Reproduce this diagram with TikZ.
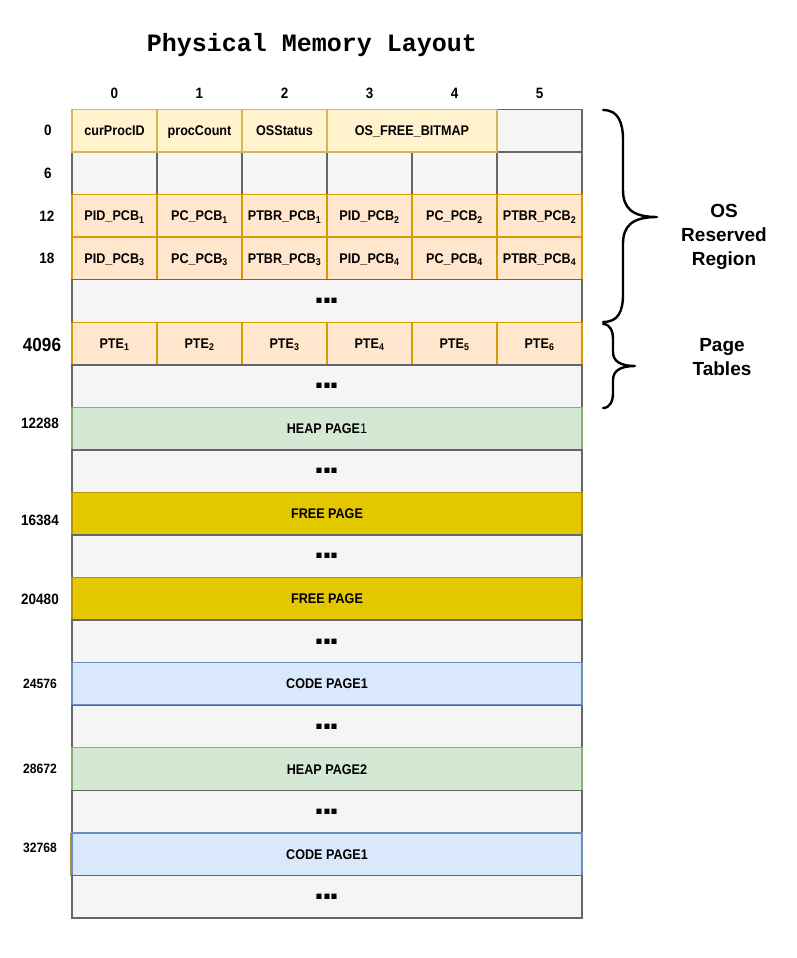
\documentclass[tikz,border=0pt]{standalone}
\usepackage{fontspec}
\setmainfont{Liberation Sans}
\newfontfamily\titlefont{Liberation Mono}
\newfontfamily\cellfamily{Liberation Sans}[FakeStretch=0.9]
\definecolor{grayF}{HTML}{F5F5F5}
\definecolor{grayS}{HTML}{666666}
\definecolor{yelF}{HTML}{FFF2CC}
\definecolor{yelS}{HTML}{D6B656}
\definecolor{orF}{HTML}{FFE6CC}
\definecolor{orS}{HTML}{D79B00}
\definecolor{grnF}{HTML}{D5E8D4}
\definecolor{grnS}{HTML}{82B366}
\definecolor{freeF}{HTML}{E3C800}
\definecolor{freeS}{HTML}{B09500}
\definecolor{bluF}{HTML}{DAE8FC}
\definecolor{bluS}{HTML}{6C8EBF}
\newcommand{\cellfnt}{\cellfamily\fontsize{14}{16}\selectfont\bfseries}
\newcommand{\dotfnt}{\fontsize{36}{36}\selectfont\bfseries}
\newcommand{\threedots}{.\kern-2.5pt.\kern-2.5pt.}
\begin{document}
\begin{tikzpicture}[x=1pt,y=-1pt,
  cellbox/.style={draw, minimum width=85pt, minimum height=42.55pt, inner sep=0pt, line width=1.4pt, font=\cellfnt, text height=11pt, text depth=1pt},
  graycell/.style={cellbox, fill=grayF, draw=grayS},
  yelcell/.style={cellbox, fill=yelF, draw=yelS},
  orcell/.style={cellbox, fill=orF, draw=orS},
  widebox/.style={cellbox, minimum width=510pt},
  dotrow/.style={widebox, fill=grayF, draw=grayS, font=\dotfnt, text height=, text depth=},
  heaprow/.style={widebox, fill=grnF, draw=grnS},
  freerow/.style={widebox, fill=freeF, draw=freeS},
  coderow/.style={widebox, fill=bluF, draw=bluS},
  hdr/.style={font=\cellfamily\fontsize{15}{16}\selectfont\bfseries, inner sep=0pt},
  rowlbl/.style={font=\cellfamily\fontsize{15}{16}\selectfont\bfseries, inner sep=0pt},
  rowlbls/.style={font=\cellfamily\fontsize{13.5}{14}\selectfont\bfseries, inner sep=0pt},
  sidelbl/.style={font=\fontsize{19}{24}\selectfont\bfseries, align=center, inner sep=0pt},
  bracepath/.style={draw=black, line width=2.4pt, line cap=round, line join=round}
]
\useasboundingbox (0,0) rectangle (796,958);

% title
\node[font=\titlefont\fontsize{25}{28}\selectfont\bfseries] (title) at (312,45) {Physical Memory Layout};

% column headers
\foreach \c in {0,...,5} {
  \node[hdr] (h\c) at ({114.5+85*\c},93) {\c};
}

% row 6 (gray)
\foreach \c in {0,...,5} {
  \node[graycell] (rB\c) at ({114.5+85*\c},173.3) {};
}
% row 0
\node[graycell] (rA5) at (539.5,130.8) {};
\node[yelcell] (rA0) at (114.5,130.8) {curProcID};
\node[yelcell] (rA1) at (199.5,130.8) {procCount};
\node[yelcell] (rA2) at (284.5,130.8) {OSStatus};
\node[yelcell, minimum width=170pt] (rA3) at (412,130.8) {OS\_FREE\_BITMAP};

% row 12
\node[orcell] (rC0) at (114.5,215.9) {PID\_PCB\textsubscript{1}};
\node[orcell] (rC1) at (199.5,215.9) {PC\_PCB\textsubscript{1}};
\node[orcell] (rC2) at (284.5,215.9) {PTBR\_PCB\textsubscript{1}};
\node[orcell] (rC3) at (369.5,215.9) {PID\_PCB\textsubscript{2}};
\node[orcell] (rC4) at (454.5,215.9) {PC\_PCB\textsubscript{2}};
\node[orcell] (rC5) at (539.5,215.9) {PTBR\_PCB\textsubscript{2}};
% row 18
\node[orcell] (rD0) at (114.5,258.4) {PID\_PCB\textsubscript{3}};
\node[orcell] (rD1) at (199.5,258.4) {PC\_PCB\textsubscript{3}};
\node[orcell] (rD2) at (284.5,258.4) {PTBR\_PCB\textsubscript{3}};
\node[orcell] (rD3) at (369.5,258.4) {PID\_PCB\textsubscript{4}};
\node[orcell] (rD4) at (454.5,258.4) {PC\_PCB\textsubscript{4}};
\node[orcell] (rD5) at (539.5,258.4) {PTBR\_PCB\textsubscript{4}};

% dots
\node[dotrow] (dots1) at (327,301.0) {\threedots};

% PTE row
\foreach \c [evaluate=\c as \n using int(\c+1)] in {0,...,5} {
  \node[orcell] (pte\c) at ({114.5+85*\c},343.5) {PTE\textsubscript{\n}};
}

\node[dotrow] (dots2) at (327,386.1) {\threedots};
\node[heaprow] (heap1) at (327,428.6) {HEAP PAGE{\mdseries 1}};
\node[dotrow] (dots3) at (327,471.2) {\threedots};
\node[freerow] (free1) at (327,513.7) {FREE PAGE};
\node[dotrow] (dots4) at (327,556.3) {\threedots};
\node[freerow] (free2) at (327,598.8) {FREE PAGE};
\node[dotrow] (dots5) at (327,641.4) {\threedots};
\node[coderow] (code1) at (327,683.9) {CODE PAGE1};
\node[dotrow] (dots6) at (327,726.5) {\threedots};
\node[heaprow] (heap2) at (327,769.0) {HEAP PAGE2};
\node[dotrow] (dots7) at (327,811.6) {\threedots};
\node[coderow] (code2) at (327,854.1) {CODE PAGE1};
\node[dotrow] (dots8) at (327,896.7) {\threedots};
\draw[draw=yelS!80!black, line width=1pt] (70.5,833) -- (70.5,876);

% row labels
\node[rowlbl] (l0) at (48,130.8) {0};
\node[rowlbl] (l6) at (48,173.3) {6};
\node[rowlbl] (l12) at (47,215.9) {12};
\node[rowlbl] (l18) at (47,258.4) {18};
\node[font=\cellfamily\fontsize{19}{20}\selectfont\bfseries, inner sep=0pt] (l4096) at (42,345) {4096};
\node[rowlbl] (l12288) at (40,423) {12288};
\node[rowlbl] (l16384) at (40,520) {16384};
\node[rowlbl] (l20480) at (40,599) {20480};
\node[rowlbls] (l24576) at (40,684) {24576};
\node[rowlbls] (l28672) at (40,769) {28672};
\node[rowlbls] (l32768) at (40,848) {32768};

% braces
\draw[bracepath] (603,110) .. controls (618,110) and (623,122) .. (623,140)
  -- (623,190) .. controls (623,208) and (632,217) .. (657,217)
  .. controls (632,217) and (623,226) .. (623,244)
  -- (623,294) .. controls (623,312) and (618,322) .. (603,322);
\draw[bracepath] (603,324) .. controls (610,324) and (613,331) .. (613,339)
  -- (613,352) .. controls (613,361) and (620,366) .. (635,366)
  .. controls (620,366) and (613,371) .. (613,380)
  -- (613,393) .. controls (613,401) and (610,408) .. (603,408);

\node[sidelbl] (osreg) at (724,237) {OS\\Reserved\\Region};
\node[sidelbl] (ptabs) at (722,357.5) {Page\\Tables};
\end{tikzpicture}
\end{document}
